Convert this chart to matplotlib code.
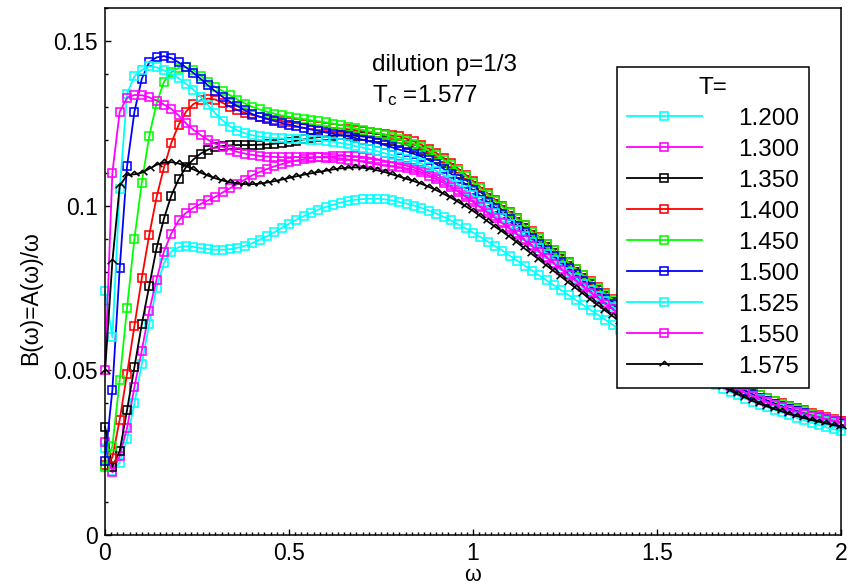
import numpy as np
import matplotlib.pyplot as plt
from matplotlib.ticker import MultipleLocator

plt.rcParams['font.family'] = ['Liberation Sans', 'DejaVu Sans']
plt.rcParams['mathtext.fontset'] = 'custom'
plt.rcParams['mathtext.rm'] = 'Liberation Sans'
plt.rcParams['mathtext.it'] = 'Liberation Sans:italic'

# temperatures shown in the legend
temps = ['1.200', '1.300', '1.350', '1.400', '1.450', '1.500', '1.525', '1.550', '1.575']

# B(w), w = 0, 0.02, ..., 2.00
b_1200 = [
    .0265, .0195, .0220, .0290, .0400, .0520, .0640, .0750, .0825, .0860,
    .0874, .0877, .0875, .0871, .0868, .0866, .0866, .0868, .0872, .0878,
    .0886, .0896, .0907, .0919, .0932, .0945, .0957, .0968, .0978, .0988,
    .0996, .1003, .1009, .1014, .1018, .1020, .1021, .1021, .1019, .1016,
    .1011, .1006, .1000, .0993, .0985, .0976, .0966, .0955, .0943, .0931,
    .0918, .0905, .0891, .0877, .0863, .0848, .0833, .0818, .0803, .0788,
    .0773, .0758, .0743, .0728, .0713, .0698, .0683, .0668, .0653, .0638,
    .0623, .0609, .0595, .0581, .0567, .0554, .0541, .0528, .0515, .0502,
    .0490, .0478, .0466, .0455, .0444, .0434, .0424, .0414, .0405, .0396,
    .0388, .0380, .0372, .0364, .0356, .0348, .0341, .0334, .0327, .0321,
    .0315]
b_1300 = [
    .0283, .0190, .0240, .0325, .0450, .0560, .0680, .0775, .0860, .0915,
    .0955, .0978, .0993, .1005, .1016, .1027, .1040, .1053, .1066, .1079,
    .1092, .1102, .1111, .1119, .1126, .1132, .1137, .1141, .1144, .1147,
    .1149, .1150, .1151, .1151, .1150, .1148, .1145, .1141, .1136, .1131,
    .1125, .1121, .1115, .1108, .1098, .1088, .1076, .1062, .1048, .1032,
    .1016, .1000, .0983, .0967, .0950, .0934, .0916, .0898, .0881, .0863,
    .0845, .0827, .0809, .0792, .0774, .0756, .0738, .0720, .0704, .0687,
    .0670, .0653, .0636, .0620, .0604, .0589, .0573, .0558, .0544, .0530,
    .0516, .0503, .0490, .0477, .0464, .0453, .0442, .0432, .0422, .0413,
    .0405, .0397, .0390, .0383, .0377, .0371, .0365, .0360, .0355, .0350,
    .0345]
b_1350 = [
    .0329, .0207, .0255, .0380, .0510, .0640, .0755, .0870, .0960, .1030,
    .1080, .1117, .1140, .1158, .1170, .1177, .1181, .1183, .1184, .1184,
    .1184, .1185, .1186, .1188, .1190, .1193, .1197, .1201, .1205, .1208,
    .1210, .1212, .1213, .1213, .1212, .1210, .1207, .1204, .1200, .1195,
    .1190, .1184, .1176, .1167, .1155, .1143, .1128, .1113, .1096, .1079,
    .1060, .1042, .1023, .1005, .0986, .0968, .0949, .0931, .0912, .0893,
    .0874, .0856, .0837, .0818, .0799, .0781, .0762, .0743, .0725, .0708,
    .0690, .0672, .0655, .0638, .0621, .0605, .0589, .0573, .0558, .0543,
    .0529, .0515, .0501, .0487, .0474, .0462, .0450, .0438, .0427, .0417,
    .0408, .0399, .0391, .0382, .0375, .0368, .0361, .0355, .0349, .0343,
    .0337]
b_1400 = [
    .0213, .0235, .0350, .0490, .0635, .0780, .0910, .1025, .1115, .1190,
    .1245, .1285, .1308, .1320, .1325, .1322, .1312, .1300, .1290, .1282,
    .1275, .1270, .1265, .1261, .1257, .1253, .1250, .1247, .1244, .1241,
    .1238, .1236, .1234, .1232, .1229, .1226, .1223, .1220, .1216, .1213,
    .1210, .1203, .1195, .1185, .1173, .1160, .1145, .1129, .1112, .1094,
    .1075, .1056, .1037, .1018, .0999, .0980, .0961, .0942, .0923, .0904,
    .0885, .0866, .0847, .0828, .0809, .0790, .0771, .0752, .0734, .0716,
    .0698, .0680, .0663, .0646, .0629, .0613, .0597, .0581, .0566, .0551,
    .0537, .0523, .0509, .0495, .0482, .0470, .0458, .0447, .0436, .0426,
    .0417, .0408, .0400, .0392, .0385, .0378, .0371, .0365, .0359, .0353,
    .0347]
b_1450 = [
    .0207, .0270, .0470, .0690, .0900, .1070, .1210, .1310, .1375, .1405,
    .1418, .1420, .1412, .1395, .1375, .1360, .1348, .1335, .1322, .1310,
    .1300, .1292, .1285, .1279, .1274, .1270, .1266, .1263, .1259, .1256,
    .1253, .1249, .1245, .1240, .1235, .1230, .1225, .1220, .1215, .1208,
    .1202, .1195, .1188, .1178, .1166, .1154, .1139, .1123, .1107, .1089,
    .1070, .1052, .1033, .1014, .0996, .0977, .0959, .0940, .0921, .0902,
    .0883, .0864, .0845, .0826, .0807, .0788, .0769, .0750, .0732, .0714,
    .0696, .0678, .0661, .0644, .0627, .0611, .0595, .0579, .0564, .0549,
    .0535, .0521, .0507, .0493, .0480, .0468, .0456, .0445, .0434, .0424,
    .0415, .0406, .0398, .0390, .0382, .0375, .0368, .0362, .0356, .0350,
    .0344]
b_1500 = [
    .0225, .0440, .0810, .1120, .1285, .1385, .1435, .1450, .1454, .1448,
    .1435, .1420, .1403, .1385, .1365, .1347, .1330, .1315, .1302, .1289,
    .1278, .1270, .1263, .1257, .1251, .1246, .1241, .1236, .1231, .1227,
    .1222, .1218, .1214, .1210, .1205, .1200, .1195, .1190, .1184, .1177,
    .1170, .1164, .1157, .1149, .1138, .1126, .1112, .1097, .1082, .1065,
    .1047, .1029, .1011, .0994, .0976, .0958, .0939, .0921, .0902, .0884,
    .0865, .0847, .0828, .0810, .0791, .0772, .0754, .0735, .0718, .0700,
    .0683, .0665, .0649, .0632, .0615, .0600, .0584, .0568, .0554, .0539,
    .0525, .0512, .0498, .0484, .0472, .0460, .0448, .0437, .0426, .0416,
    .0407, .0398, .0390, .0383, .0376, .0369, .0362, .0357, .0351, .0345,
    .0339]
b_1525 = [
    .0740, .0600, .1050, .1340, .1393, .1412, .1423, .1420, .1411, .1400,
    .1387, .1370, .1352, .1330, .1305, .1280, .1258, .1240, .1228, .1220,
    .1214, .1210, .1207, .1205, .1204, .1203, .1202, .1201, .1200, .1199,
    .1197, .1194, .1190, .1186, .1181, .1176, .1171, .1165, .1159, .1153,
    .1147, .1142, .1136, .1128, .1117, .1106, .1093, .1079, .1064, .1048,
    .1031, .1014, .0996, .0979, .0962, .0945, .0927, .0909, .0891, .0872,
    .0854, .0836, .0818, .0799, .0781, .0763, .0745, .0727, .0710, .0693,
    .0676, .0658, .0642, .0625, .0609, .0593, .0578, .0562, .0548, .0533,
    .0519, .0506, .0492, .0479, .0466, .0455, .0443, .0432, .0422, .0412,
    .0403, .0394, .0387, .0379, .0372, .0365, .0358, .0353, .0347, .0341,
    .0335]
b_1550 = [
    .0500, .1100, .1285, .1328, .1336, .1335, .1329, .1319, .1307, .1294,
    .1274, .1250, .1230, .1214, .1200, .1188, .1178, .1170, .1163, .1158,
    .1154, .1151, .1149, .1148, .1147, .1147, .1147, .1147, .1147, .1147,
    .1146, .1145, .1143, .1140, .1137, .1133, .1129, .1125, .1121, .1119,
    .1117, .1113, .1108, .1101, .1091, .1081, .1069, .1056, .1042, .1027,
    .1011, .0995, .0978, .0962, .0946, .0930, .0912, .0895, .0877, .0859,
    .0842, .0824, .0806, .0789, .0771, .0753, .0736, .0718, .0701, .0685,
    .0668, .0651, .0635, .0618, .0602, .0587, .0572, .0557, .0542, .0528,
    .0515, .0502, .0489, .0475, .0463, .0452, .0441, .0431, .0421, .0411,
    .0403, .0395, .0388, .0380, .0374, .0368, .0362, .0357, .0352, .0347,
    .0342]
b_1575 = [
    .0496, .0830, .1060, .1093, .1095, .1100, .1112, .1124, .1131, .1132,
    .1128, .1120, .1110, .1100, .1091, .1083, .1076, .1071, .1067, .1065,
    .1065, .1067, .1070, .1074, .1079, .1084, .1089, .1094, .1098, .1102,
    .1106, .1110, .1113, .1115, .1116, .1115, .1112, .1107, .1102, .1095,
    .1088, .1081, .1074, .1066, .1057, .1047, .1036, .1024, .1011, .0998,
    .0984, .0968, .0952, .0936, .0921, .0905, .0888, .0870, .0853, .0836,
    .0818, .0801, .0784, .0766, .0749, .0732, .0714, .0697, .0681, .0664,
    .0648, .0631, .0615, .0600, .0584, .0569, .0554, .0539, .0526, .0512,
    .0499, .0486, .0473, .0461, .0449, .0438, .0427, .0417, .0407, .0398,
    .0390, .0382, .0375, .0367, .0361, .0355, .0349, .0344, .0339, .0334,
    .0329]

curves = [b_1200, b_1300, b_1350, b_1400, b_1450, b_1500, b_1525, b_1550, b_1575]
omega = np.linspace(0, 2, len(b_1200))

cyan, magenta, green = '#00ffff', '#ff00ff', '#00ff00'
colors = [cyan, magenta, 'k', '#ff0000', green, '#0000ff', cyan, magenta, 'k']
caret = [(-1, -0.35), (0, 0.65), (1, -0.35)]
markers = ['s'] * 8 + [caret]

fig = plt.figure(figsize=(8.53, 5.86), dpi=100)
ax = fig.add_axes([105/853, 1 - 535/586, 736/853, 527/586])

for vals, t, c, m in zip(curves, temps, colors, markers):
    ms = 7 if m is caret else 5.3
    ax.plot(omega, vals, color=c, lw=1.3, marker=m, ms=ms, mfc='none',
            mec=c, mew=1.15, label=t, clip_on=False)

ax.set_xlim(0, 2)
ax.set_ylim(0, 0.16)
ax.set_xticks([0, 0.5, 1, 1.5, 2])
ax.set_xticklabels(['0', '0.5', '1', '1.5', '2'])
ax.set_yticks([0, 0.05, 0.1, 0.15])
ax.set_yticklabels(['0', '0.05', '0.1', '0.15'])
ax.xaxis.set_minor_locator(MultipleLocator(1/60))
ax.yaxis.set_minor_locator(MultipleLocator(0.01))
ax.tick_params(which='both', direction='in', top=False, right=False,
               labelsize=16.5, width=1.0)
ax.tick_params(which='major', length=4.5, pad=5)
ax.tick_params(which='minor', length=2.2)
for sp in ax.spines.values():
    sp.set_linewidth(1.1)

ax.set_xlabel('ω', fontsize=15.5, labelpad=0)
ax.set_ylabel('B(ω)=A(ω)/ω', fontsize=16.5)
ax.yaxis.set_label_coords(-0.086, 0.45)

fig.text(372/853, 1 - 71/586, 'dilution p=1/3', fontsize=17.5, va='baseline')
fig.text(372/853, 1 - 102/586, r'T$_{\rm c}$ =1.577', fontsize=17.5, va='baseline')

leg = ax.legend(title='T=', loc='upper left',
                bbox_to_anchor=(617/853, 1 - 67/586), bbox_transform=fig.transFigure,
                fontsize=17.5, title_fontsize=17.5, frameon=True, fancybox=False,
                edgecolor='k', framealpha=1, handlelength=3.1, handletextpad=1.5,
                labelspacing=0.37, borderpad=0.4, borderaxespad=0)
leg.get_frame().set_linewidth(1.1)

plt.savefig('out.png', dpi=100)
plt.close()
